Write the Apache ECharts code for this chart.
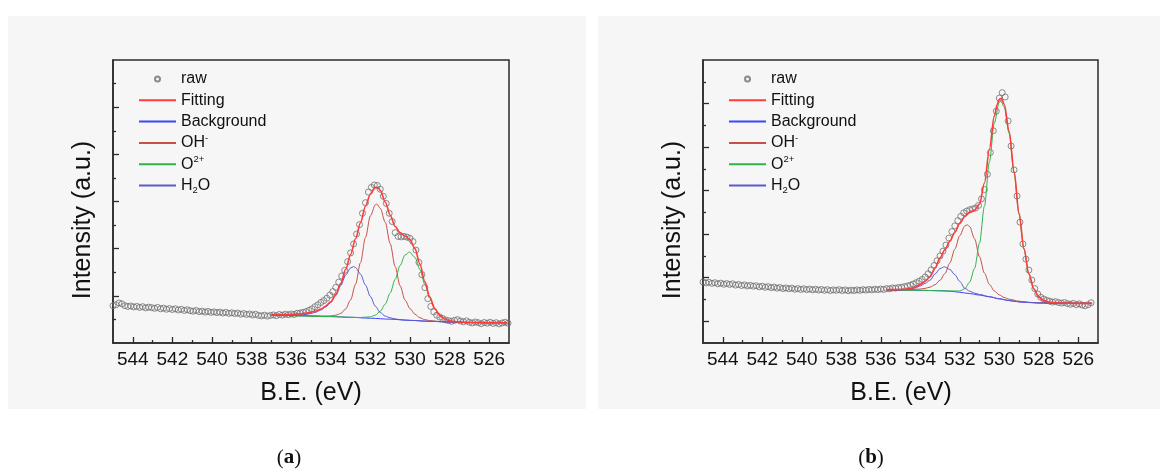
<!DOCTYPE html>
<html><head><meta charset="utf-8">
<script src="https://cdn.jsdelivr.net/npm/echarts@6.0.0/dist/echarts.min.js"></script>
<style>html,body{margin:0;padding:0;background:#fff}#c{width:1160px;height:472px}</style>
</head><body><div id="c"></div>
<script>
// ---------- tick values ----------
const beMajor = [544, 542, 540, 538, 536, 534, 532, 530, 528, 526];
const beMinor = [543, 541, 539, 537, 535, 533, 531, 529, 527];
const yMajorA = [2, 4, 6, 8, 10];
const yMinorA = [1, 3, 5, 7, 9, 11];
const yMajorB = [1, 3, 5, 7, 9, 11];
const yMinorB = [2, 4, 6, 8, 10, 12];

// ---------- raw spectra (B.E. from 545 eV, step 0.15 eV) ----------
const rawStart = 545, rawStep = 0.15;
const rawA = [
1.58,1.62,1.70,1.66,1.58,1.55,1.57,1.53,1.55,1.51,1.54,1.49,1.52,1.50,1.47,1.51,1.45,1.48,1.43,1.46,
1.42,1.45,1.40,1.43,1.38,1.41,1.37,1.35,1.38,1.33,1.35,1.31,1.34,1.30,1.32,1.29,1.31,1.27,1.30,1.26,
1.28,1.25,1.27,1.22,1.25,1.21,1.23,1.19,1.22,1.17,1.15,1.18,1.14,1.17,1.19,1.16,1.21,1.18,1.22,1.20,
1.23,1.21,1.26,1.27,1.30,1.33,1.39,1.45,1.54,1.62,1.72,1.80,1.90,2.03,2.18,2.36,2.58,2.84,3.08,3.45,
3.82,4.20,4.62,5.02,5.50,5.95,6.40,6.60,6.70,6.68,6.52,6.22,5.92,5.50,5.15,4.68,4.52,4.50,4.52,4.49,
4.44,4.30,3.94,3.42,2.90,2.35,1.88,1.55,1.32,1.18,1.10,1.04,0.98,0.95,0.92,0.96,0.99,0.93,0.90,0.94,
0.88,0.85,0.89,0.86,0.82,0.87,0.84,0.88,0.83,0.86,0.81,0.85,0.88,0.84];
const rawB = [
2.80,2.76,2.79,2.74,2.77,2.72,2.75,2.70,2.73,2.69,2.72,2.66,2.69,2.64,2.67,2.62,2.65,2.61,2.63,2.58,
2.61,2.56,2.59,2.54,2.57,2.52,2.55,2.50,2.53,2.49,2.52,2.47,2.50,2.46,2.49,2.45,2.48,2.44,2.47,2.43,
2.46,2.42,2.45,2.41,2.44,2.42,2.45,2.41,2.44,2.40,2.43,2.41,2.44,2.42,2.45,2.43,2.46,2.44,2.47,2.45,
2.48,2.46,2.50,2.49,2.53,2.52,2.55,2.56,2.59,2.62,2.66,2.71,2.77,2.84,2.92,3.03,3.18,3.36,3.56,3.78,
4.00,4.22,4.50,4.82,5.12,5.38,5.62,5.82,5.98,6.06,6.12,6.16,6.20,6.32,6.62,7.05,7.75,8.75,9.75,10.65,
11.25,11.50,11.30,10.20,9.05,7.95,6.75,5.55,4.55,3.85,3.35,2.89,2.50,2.25,2.10,2.02,1.96,1.92,1.88,1.90,
1.86,1.83,1.86,1.81,1.78,1.82,1.76,1.80,1.74,1.71,1.76,1.85];

// ---------- fitted curves, panel (a): [B.E., intensity] ----------
const fitA = [[537,1.19],[536.5,1.20],[536,1.21],[535.5,1.24],[535.25,1.27],[535,1.30],[534.75,1.36],[534.5,1.44],[534.25,1.57],[534,1.75],[533.75,2.06],[533.5,2.52],[533.25,3.12],[533,3.75],[532.75,4.42],[532.5,5.10],[532.25,5.80],[532,6.32],[531.75,6.60],[531.6,6.58],[531.5,6.47],[531.25,5.98],[531,5.42],[530.75,4.94],[530.5,4.68],[530.25,4.54],[530,4.38],[529.75,4.00],[529.5,3.35],[529.25,2.60],[529,1.94],[528.75,1.46],[528.5,1.17],[528.25,1.02],[528,0.94],[527.5,0.89],[527,0.87],[526,0.86],[525.1,0.86]];
const bgA = [[537,1.19],[536,1.17],[535,1.15],[534,1.12],[533,1.09],[532,1.05],[531,1.01],[530,0.96],[529,0.92],[528,0.89],[527,0.87],[526,0.86],[525.1,0.86]];
const ohA = [[537,1.19],[536,1.17],[535,1.15],[534.5,1.14],[534,1.15],[533.75,1.18],[533.5,1.25],[533.25,1.44],[533,1.83],[532.75,2.49],[532.5,3.41],[532.25,4.47],[532,5.39],[531.75,5.86],[531.68,5.89],[531.5,5.71],[531.25,5.12],[531,4.21],[530.75,3.24],[530.5,2.43],[530.25,1.82],[530,1.46],[529.75,1.22],[529.5,1.07],[529.25,0.99],[529,0.95],[528.5,0.91],[528,0.89],[527,0.87],[526,0.86],[525.1,0.86]];
const o2A = [[537,1.19],[534,1.12],[533,1.09],[532.5,1.08],[532,1.11],[531.75,1.18],[531.5,1.35],[531.25,1.65],[531,2.12],[530.75,2.70],[530.5,3.29],[530.25,3.73],[530.03,3.86],[529.75,3.63],[529.5,3.12],[529.25,2.49],[529,1.90],[528.75,1.46],[528.5,1.17],[528.25,1.01],[528,0.93],[527.5,0.885],[527,0.87],[526,0.86],[525.1,0.86]];
const h2oA = [[537,1.19],[536,1.17],[535.5,1.19],[535.25,1.22],[535,1.25],[534.75,1.31],[534.5,1.40],[534.25,1.53],[534,1.72],[533.75,2.01],[533.5,2.43],[533.25,2.88],[533,3.18],[532.85,3.24],[532.75,3.20],[532.5,2.92],[532.25,2.46],[532,1.97],[531.75,1.56],[531.5,1.29],[531.25,1.14],[531,1.07],[530.75,1.02],[530.5,0.99],[530,0.96],[529,0.92],[528,0.89],[527,0.87],[526,0.86],[525.1,0.86]];

// ---------- fitted curves, panel (b) ----------
const fitB = [[535.7,2.45],[535.25,2.45],[535,2.46],[534.75,2.47],[534.5,2.50],[534.25,2.56],[534,2.68],[533.75,2.84],[533.5,3.05],[533.25,3.45],[533,3.90],[532.75,4.29],[532.5,4.68],[532.25,5.09],[532,5.49],[531.75,5.80],[531.5,6.00],[531.25,6.10],[531,6.38],[530.75,7.35],[530.5,8.89],[530.25,10.42],[530.1,10.96],[530,11.20],[529.9,11.24],[529.75,10.98],[529.5,9.72],[529.25,7.88],[529,5.97],[528.75,4.34],[528.5,3.18],[528.25,2.49],[528,2.12],[527.75,1.96],[527.5,1.88],[527,1.84],[526,1.82],[525.3,1.82]];
const bgB = [[535.7,2.44],[535,2.43],[534,2.42],[533,2.40],[532.5,2.38],[532,2.33],[531.5,2.27],[531,2.20],[530.5,2.12],[530,2.03],[529.5,1.95],[529,1.89],[528.5,1.86],[528,1.84],[527,1.83],[526,1.82],[525.3,1.82]];
const ohB = [[535.7,2.44],[535,2.44],[534.5,2.45],[534,2.48],[533.75,2.51],[533.5,2.57],[533.25,2.68],[533,2.88],[532.75,3.19],[532.5,3.68],[532.25,4.31],[532,4.93],[531.75,5.37],[531.62,5.43],[531.5,5.35],[531.25,4.79],[531,3.96],[530.75,3.21],[530.5,2.70],[530.25,2.39],[530,2.21],[529.75,2.09],[529.5,2.01],[529,1.92],[528.5,1.87],[528,1.84],[527,1.83],[526,1.82],[525.3,1.82]];
const o2B = [[535.7,2.44],[534,2.42],[533,2.40],[532.5,2.39],[532,2.39],[531.75,2.49],[531.5,2.79],[531.25,3.43],[531,4.59],[530.75,6.29],[530.5,8.31],[530.25,10.10],[530,11.06],[529.92,11.11],[529.75,10.84],[529.5,9.63],[529.25,7.82],[529,5.91],[528.75,4.30],[528.5,3.16],[528.25,2.47],[528,2.10],[527.75,1.94],[527.5,1.86],[527,1.83],[526,1.82],[525.3,1.82]];
const h2oB = [[535.7,2.44],[535,2.43],[534.75,2.45],[534.5,2.48],[534.25,2.53],[534,2.62],[533.75,2.74],[533.5,2.89],[533.25,3.17],[533,3.42],[532.78,3.50],[532.5,3.38],[532.25,3.14],[532,2.83],[531.75,2.52],[531.5,2.38],[531.25,2.29],[531,2.23],[530.5,2.13],[530,2.03],[529.5,1.95],[529,1.89],[528.5,1.86],[528,1.84],[527,1.83],[526,1.82],[525.3,1.82]];

const legendNames = ['raw', 'Fitting', 'Background', 'OH-', 'O2+', 'H2O'];

// ---------- styles ----------
const FONT = 'Liberation Sans';
const AX = '#2b2b2b';
const colors = { fit: '#ff3b3b', bg: '#3f45ff', oh: '#c8504a', o2: '#2fb34a', h2o: '#5a5ad0' };

function toPairs(vals) {
  return vals.map((v, i) => [+(rawStart - rawStep * i).toFixed(2), v]);
}

function xAxesFor(g) {
  return [
    { gridIndex: g, type: 'value', min: 525, max: 545, inverse: true, position: 'bottom',
      axisLine: { show: true, onZero: false, lineStyle: { color: AX, width: 1.5 } },
      axisTick: { show: true, inside: true, length: 6, customValues: beMajor, lineStyle: { color: AX, width: 1.3 } },
      axisLabel: { show: true, customValues: beMajor, margin: 7, fontFamily: FONT, fontSize: 19, color: '#111' },
      splitLine: { show: false } },
    { gridIndex: g, type: 'value', min: 525, max: 545, inverse: true, position: 'bottom',
      axisLine: { show: false },
      axisTick: { show: true, inside: true, length: 3, customValues: beMinor, lineStyle: { color: AX, width: 1.3 } },
      axisLabel: { show: false }, splitLine: { show: false } }
  ];
}
function yAxesFor(g, maxV, majors, minors) {
  return [
    { gridIndex: g, type: 'value', min: 0, max: maxV, position: 'left',
      axisLine: { show: true, onZero: false, lineStyle: { color: AX, width: 1.5 } },
      axisTick: { show: true, inside: true, length: 6, customValues: majors, lineStyle: { color: AX, width: 1.3 } },
      axisLabel: { show: false }, splitLine: { show: false } },
    { gridIndex: g, type: 'value', min: 0, max: maxV, position: 'left',
      axisLine: { show: false },
      axisTick: { show: true, inside: true, length: 3, customValues: minors, lineStyle: { color: AX, width: 1.3 } },
      axisLabel: { show: false }, splitLine: { show: false } }
  ];
}
function lineSeries(name, data, color, width, xi, yi, z) {
  return { name, type: 'line', data, xAxisIndex: xi, yAxisIndex: yi, symbol: 'none', showSymbol: false,
    smooth: 0.3, smoothMonotone: 'x', lineStyle: { color, width }, itemStyle: { color }, z, silent: true };
}
function panelSeries(raw, fit, bg, oh, o2, h2o, xi, yi) {
  return [
    { name: 'raw', type: 'scatter', data: toPairs(raw), xAxisIndex: xi, yAxisIndex: yi,
      symbol: 'circle', symbolSize: 6,
      itemStyle: { color: 'rgba(0,0,0,0)', borderColor: '#6f6f6f', borderWidth: 1 }, z: 2, silent: true },
    lineSeries('Fitting', fit, colors.fit, 1.6, xi, yi, 4),
    lineSeries('Background', bg, colors.bg, 1, xi, yi, 3),
    lineSeries('OH-', oh, colors.oh, 1, xi, yi, 3),
    lineSeries('O2+', o2, colors.o2, 1, xi, yi, 3),
    lineSeries('H2O', h2o, colors.h2o, 1, xi, yi, 3)
  ];
}
function legendFor(left) {
  const hidden = { color: 'rgba(0,0,0,0)', borderWidth: 0 };
  return { left, top: 69, orient: 'vertical', padding: 0, itemWidth: 37, itemHeight: 5, itemGap: 1.3,
    selectedMode: false,
    data: legendNames.map(n => n === 'raw' ? { name: n } : { name: n, itemStyle: hidden }),
    formatter: n => ({ 'OH-': 'OH{sup|-}', 'O2+': 'O{sup|2+}', 'H2O': 'H{sub|2}O' })[n] || n,
    textStyle: { fontFamily: FONT, fontSize: 16, color: '#111', lineHeight: 20,
      rich: { sup: { fontSize: 9.5, lineHeight: 11, verticalAlign: 'top' },
              sub: { fontSize: 9.5, lineHeight: 9, verticalAlign: 'bottom' } } } };
}
function txt(x, y, text, font, rot) {
  return { type: 'text', x, y, rotation: rot || 0, z: 100, silent: true,
    style: { text, font, fill: '#111', textAlign: 'center', textVerticalAlign: 'middle' } };
}
function caption(x, y, letter) {
  return { type: 'text', x, y, z: 100, silent: true,
    style: { text: '({b|' + letter + '})', font: '21px "Liberation Serif"', fill: '#111',
      textAlign: 'center', textVerticalAlign: 'middle',
      rich: { b: { font: 'bold 21px "Liberation Serif"' } } } };
}

const chart = echarts.init(document.getElementById('c'), null, { renderer: 'canvas' });
chart.setOption({
  animation: false,
  backgroundColor: '#ffffff',
  grid: [
    { left: 113, top: 60, width: 396, height: 283, show: true, borderColor: AX, borderWidth: 1.5, backgroundColor: 'transparent' },
    { left: 703, top: 60, width: 395, height: 283, show: true, borderColor: AX, borderWidth: 1.5, backgroundColor: 'transparent' }
  ],
  xAxis: [...xAxesFor(0), ...xAxesFor(1)],
  yAxis: [...yAxesFor(0, 12, yMajorA, yMinorA), ...yAxesFor(1, 13, yMajorB, yMinorB)],
  legend: [legendFor(138), legendFor(728)],
  graphic: [
    { type: 'rect', z: -10, silent: true, shape: { x: 8, y: 16, width: 578, height: 393 }, style: { fill: '#f5f6f5' } },
    { type: 'rect', z: -10, silent: true, shape: { x: 598, y: 16, width: 562, height: 393 }, style: { fill: '#f5f6f5' } },
    txt(83, 220, 'Intensity (a.u.)', '25px "Liberation Sans"', Math.PI / 2),
    txt(673, 220, 'Intensity (a.u.)', '25px "Liberation Sans"', Math.PI / 2),
    txt(311, 393, 'B.E. (eV)', '25px "Liberation Sans"'),
    txt(901, 393, 'B.E. (eV)', '25px "Liberation Sans"'),
    caption(289, 458, 'a'),
    caption(871, 458, 'b')
  ],
  series: [
    ...panelSeries(rawA, fitA, bgA, ohA, o2A, h2oA, 0, 0),
    ...panelSeries(rawB, fitB, bgB, ohB, o2B, h2oB, 2, 2)
  ]
});
</script></body></html>
